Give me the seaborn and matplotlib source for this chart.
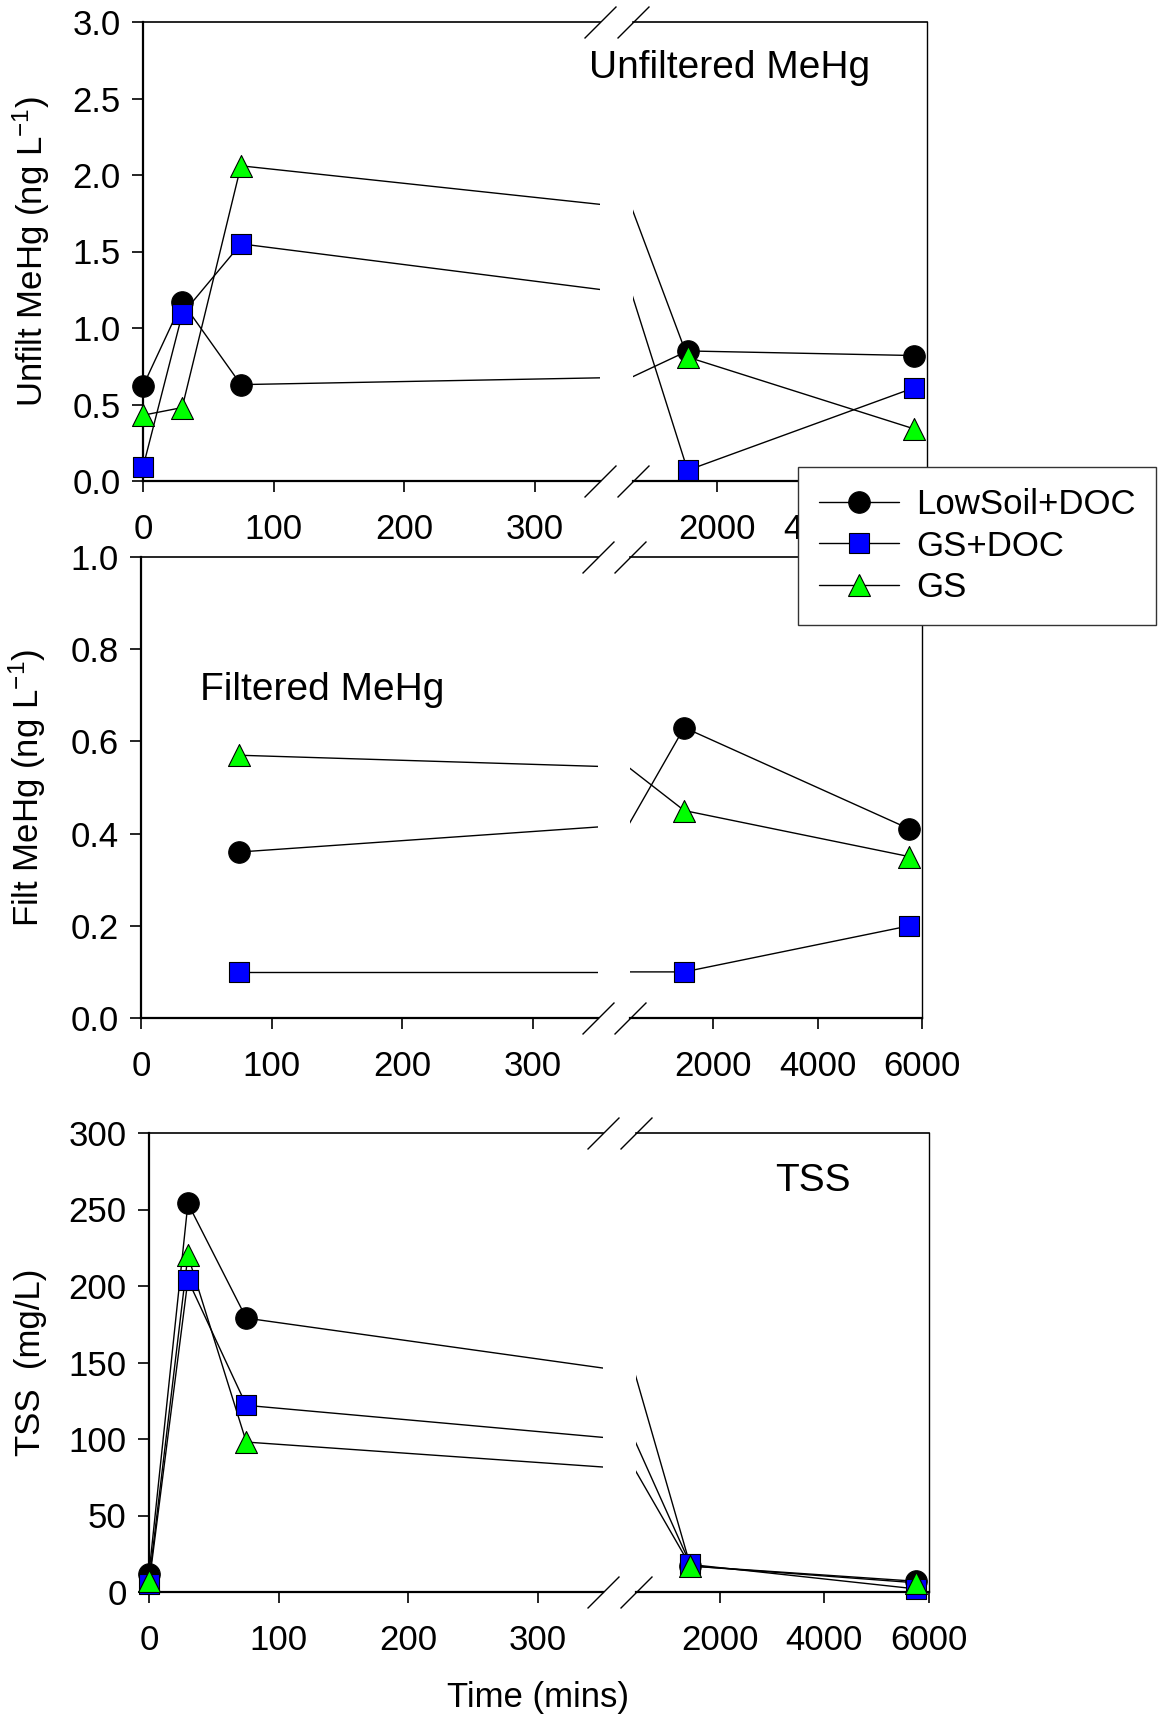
import numpy as np
import pandas as pd
import matplotlib
matplotlib.use("Agg")
import matplotlib.pyplot as plt
import seaborn as sns
from matplotlib.lines import Line2D

# ---------------- data ----------------
series = ["LowSoil+DOC", "GS+DOC", "GS"]
time_all = [0, 30, 75, 1440, 5760]
time_filt = [75, 1440, 5760]

unfilt_lowsoil = [0.62, 1.17, 0.63, 0.85, 0.82]
unfilt_gsdoc = [0.09, 1.09, 1.55, 0.07, 0.61]
unfilt_gs = [0.43, 0.48, 2.06, 0.81, 0.34]

filt_lowsoil = [0.36, 0.63, 0.41]
filt_gsdoc = [0.10, 0.10, 0.20]
filt_gs = [0.57, 0.45, 0.35]

tss_lowsoil = [12, 254, 179, 17, 7]
tss_gsdoc = [5, 204, 122, 18, 2]
tss_gs = [7, 220, 98, 17, 6]

left_ticks = [0, 100, 200, 300]
right_ticks = [2000, 4000, 6000]


def long_df(times, vals):
    rows = []
    for s, v in zip(series, vals):
        for t, y in zip(times, v):
            rows.append((s, t, y))
    return pd.DataFrame(rows, columns=["series", "time", "value"])


df_unf = long_df(time_all, [unfilt_lowsoil, unfilt_gsdoc, unfilt_gs])
df_fil = long_df(time_filt, [filt_lowsoil, filt_gsdoc, filt_gs])
df_tss = long_df(time_all, [tss_lowsoil, tss_gsdoc, tss_gs])

# ---------------- style ----------------
sns.set_style("ticks")
plt.rcParams["font.family"] = ["Liberation Sans", "DejaVu Sans"]
plt.rcParams["mathtext.fontset"] = "custom"
plt.rcParams["mathtext.rm"] = "Liberation Sans"
plt.rcParams["mathtext.it"] = "Liberation Sans"
plt.rcParams["axes.edgecolor"] = "black"
plt.rcParams["xtick.color"] = "black"
plt.rcParams["ytick.color"] = "black"
plt.rcParams["text.color"] = "black"
plt.rcParams["axes.labelcolor"] = "black"

MARK = {"LowSoil+DOC": "o", "GS+DOC": "s", "GS": "^"}
COL = {"LowSoil+DOC": "black", "GS+DOC": "#0000ff", "GS": "#00ff00"}
SIZE = {"LowSoil+DOC": 240, "GS+DOC": 190, "GS": 250}

W, H = 1159, 1722
fig = plt.figure(figsize=(W / 100, H / 100), dpi=100)


def add_axes(x0, x1, ytop, ybot):
    return fig.add_axes([x0 / W, 1 - ybot / H, (x1 - x0) / W, (ybot - ytop) / H])


LO, HI = (0, 350), (400, 6000)


def draw_panel(geom, df, ylim, yticks, fmt, ylabel, ylab_px):
    (l0, l1, r0, r1, ytop, ybot) = geom
    axL = add_axes(l0, l1, ytop, ybot)
    axR = add_axes(r0, r1, ytop, ybot)
    for ax, (lo, hi), ticks in ((axL, LO, left_ticks), (axR, HI, right_ticks)):
        sns.lineplot(data=df, x="time", y="value", hue="series",
                     palette={s: "black" for s in series}, estimator=None,
                     linewidth=1.0, legend=False, ax=ax, zorder=2)
        for s in series:
            sub = df[(df.series == s) & (df.time >= lo) & (df.time <= hi)]
            sns.scatterplot(data=sub, x="time", y="value", marker=MARK[s],
                            color=COL[s], s=SIZE[s], edgecolor="black",
                            linewidth=0.8, ax=ax, zorder=3, clip_on=False,
                            legend=False)
        ax.set_xlim(lo, hi)
        ax.set_ylim(*ylim)
        ax.set_xticks(ticks)
        ax.set_xticklabels([str(t) for t in ticks])
        ax.set_xlabel("")
        ax.set_ylabel("")
        ax.tick_params(axis="x", direction="out", length=8, width=1.2,
                       labelsize=25, pad=15)
        ax.spines["bottom"].set_linewidth(1.6)
        ax.spines["top"].set_linewidth(1.2)
        ax.spines["left"].set_linewidth(1.6)
        ax.spines["right"].set_linewidth(1.0)
        ax.patch.set_alpha(0)
    axL.spines["right"].set_visible(False)
    axR.spines["left"].set_visible(False)
    axR.tick_params(axis="y", left=False, labelleft=False)
    axL.set_yticks(yticks)
    axL.set_yticklabels([fmt.format(v) for v in yticks])
    axL.tick_params(axis="y", direction="out", length=8, width=1.2,
                    labelsize=25, pad=8)
    axL.set_ylabel(ylabel, fontsize=25, va="center")
    axL.yaxis.set_label_coords((ylab_px - l0) / (l1 - l0), 0.5)
    kw = dict(marker=[(-1, -1), (1, 1)], markersize=23, linestyle="none",
              color="k", mec="k", mew=1.0, clip_on=False)
    axL.plot([1, 1], [0, 1], transform=axL.transAxes, **kw)
    axR.plot([0, 0], [0, 1], transform=axR.transAxes, **kw)
    return axL, axR


draw_panel((143, 600, 633, 927, 22, 481), df_unf, (0, 3.0),
           [0, 0.5, 1.0, 1.5, 2.0, 2.5, 3.0], "{:.1f}",
           "Unfilt MeHg (ng L$^{\\mathrm{-1}}$)", 31)
draw_panel((141, 598, 630, 922, 557, 1018), df_fil, (0, 1.0),
           [0, 0.2, 0.4, 0.6, 0.8, 1.0], "{:.1f}",
           "Filt MeHg (ng L$^{\\mathrm{-1}}$)", 27)
draw_panel((149, 603, 636, 929, 1133, 1592), df_tss, (0, 300),
           [0, 50, 100, 150, 200, 250, 300], "{:.0f}",
           "TSS  (mg/L)", 30)

fig.text(730 / W, 1 - 68 / H, "Unfiltered MeHg", ha="center", va="center", fontsize=28)
fig.text(322 / W, 1 - 690 / H, "Filtered MeHg", ha="center", va="center", fontsize=28)
fig.text(813 / W, 1 - 1181 / H, "TSS", ha="center", va="center", fontsize=28)
fig.text(538 / W, 1 - 1698 / H, "Time (mins)", ha="center", va="center", fontsize=25)

handles = [Line2D([0], [0], color="black", lw=1.0, marker=MARK[s],
                  markerfacecolor=COL[s], markeredgecolor="black",
                  markersize=np.sqrt(SIZE[s]), markeredgewidth=0.8)
           for s in series]
leg = fig.legend(handles=handles, labels=series, loc="upper left",
                 bbox_to_anchor=(798 / W, 1 - 467 / H), bbox_transform=fig.transFigure,
                 frameon=True, fancybox=False, framealpha=1, edgecolor="#333333",
                 fontsize=25, handlelength=2.3, handletextpad=0.5,
                 borderpad=0.6, labelspacing=0.25, borderaxespad=0)
leg.get_frame().set_linewidth(1.0)
leg.set_zorder(10)

fig.savefig("out.png", dpi=100)
